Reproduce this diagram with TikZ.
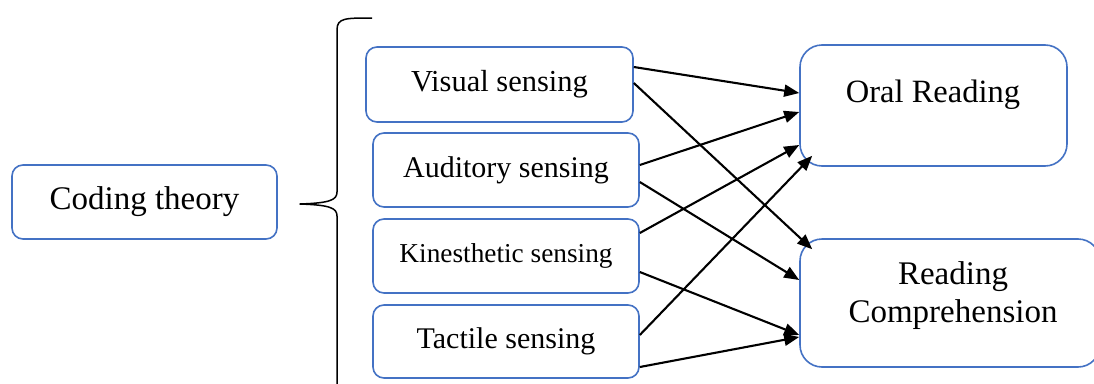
\documentclass[tikz,border=0pt]{standalone}
\usepackage{fontspec}
\setmainfont{Liberation Serif}
\usetikzlibrary{arrows.meta}
\definecolor{boxblue}{RGB}{68,114,196}
\tikzset{
  box/.style={draw=boxblue, line width=1.6pt, rounded corners=11pt, fill=white, inner sep=0pt},
  bigbox/.style={box, rounded corners=22pt},
  conn/.style={draw=black, line width=2.1pt, -{Triangle[length=15pt,width=12pt]}},
  lbl/.style={align=center, inner sep=0pt},
}
\begin{document}
\begin{tikzpicture}[x=1pt,y=-1pt]
\useasboundingbox (0,0) rectangle (1094,383);
% nodes
\node[box, minimum width=265pt, minimum height=74pt, font=\fontsize{33}{38}\selectfont] (code) at (144.5,202) {Coding theory};
\node[box, minimum width=267pt, minimum height=75pt, font=\fontsize{30.5}{36}\selectfont] (vis) at (499.5,84.5) {Visual sensing};
\node[box, minimum width=266pt, minimum height=74pt, font=\fontsize{30}{36}\selectfont] (aud) at (506,170) {Auditory sensing};
\node[box, minimum width=266pt, minimum height=74pt, font=\fontsize{27.3}{32}\selectfont] (kin) at (506,256) {Kinesthetic sensing};
\node[box, minimum width=266pt, minimum height=73pt, font=\fontsize{30}{36}\selectfont] (tac) at (506,341.5) {Tactile sensing};
\node[bigbox, minimum width=267pt, minimum height=121pt] (oral) at (933.5,105.5) {};
\node[lbl, font=\fontsize{32.5}{38}\selectfont] (oralt) at (933,95) {Oral Reading};
\node[bigbox, minimum width=300pt, minimum height=128pt] (rc) at (950,303) {};
\node[lbl, font=\fontsize{33}{38}\selectfont] (rct) at (953,296) {Reading\\Comprehension};
% brace
\draw[line width=1.5pt, line join=round]
  (372,18) .. controls (345,18) and (337,18) .. (337,30)
  -- (337,192) .. controls (337,200) and (330,203) .. (300,204)
  .. controls (330,205) and (337,208) .. (337,216)
  -- (337,390);
% connectors
\draw[conn] ([yshift=17.5pt]vis.east) -- ([yshift=12.5pt]oral.west);
\draw[conn] ([yshift=1.5pt]vis.east) -- ([xshift=13pt,yshift=-11pt]rc.north west);
\draw[conn] ([yshift=5pt]aud.east) -- ([yshift=-6.5pt]oral.west);
\draw[conn] ([yshift=-12pt]aud.east) -- ([yshift=23pt]rc.west);
\draw[conn] ([yshift=23pt]kin.east) -- ([yshift=-39.5pt]oral.west);
\draw[conn] ([yshift=-16pt]kin.east) -- ([yshift=-32pt]rc.west);
\draw[conn] ([yshift=6.5pt]tac.east) -- ([xshift=13pt,yshift=11pt]oral.south west);
\draw[conn] ([yshift=-25.5pt]tac.east) -- ([yshift=-34pt]rc.west);
\end{tikzpicture}
\end{document}
